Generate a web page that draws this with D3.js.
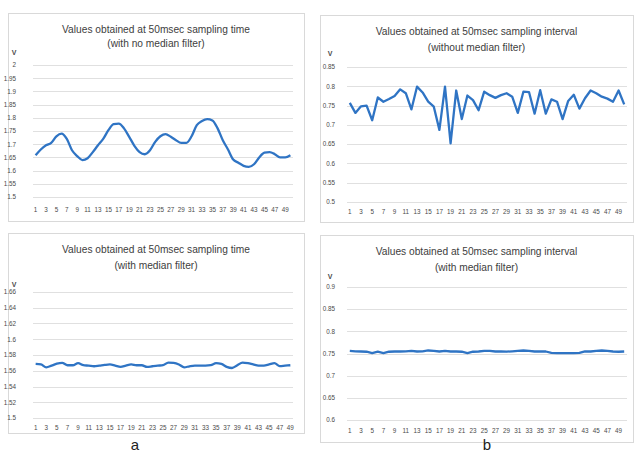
<!DOCTYPE html>
<html>
<head>
<meta charset="utf-8">
<script src="https://cdn.jsdelivr.net/npm/d3@7"></script>
<style>
  body { margin: 0; background: #fff; }
  svg { display: block; font-family: "Liberation Sans", Arial, sans-serif; }
</style>
</head>
<body>
<svg id="canvas" width="635" height="452"></svg>
<script>
"use strict";

const noFilterTime = [
  1.658, 1.68, 1.696, 1.705, 1.73, 1.74, 1.72, 1.677, 1.655, 1.64,
  1.647, 1.67, 1.696, 1.72, 1.753, 1.776, 1.778, 1.76, 1.728, 1.694,
  1.67, 1.662, 1.677, 1.709, 1.73, 1.738, 1.728, 1.715, 1.705, 1.705,
  1.73, 1.772, 1.788, 1.795, 1.79, 1.76, 1.715, 1.68, 1.642, 1.63,
  1.618, 1.614, 1.624, 1.65, 1.668, 1.67, 1.662, 1.65, 1.65, 1.658
];
const noFilterInterval = [
  0.757, 0.731, 0.748, 0.750, 0.712, 0.771, 0.760, 0.767, 0.775, 0.792,
  0.782, 0.740, 0.799, 0.784, 0.760, 0.747, 0.687, 0.799, 0.652, 0.789,
  0.715, 0.776, 0.764, 0.738, 0.786, 0.777, 0.770, 0.777, 0.782, 0.773,
  0.731, 0.786, 0.785, 0.729, 0.790, 0.729, 0.766, 0.760, 0.715, 0.762,
  0.778, 0.742, 0.769, 0.789, 0.782, 0.773, 0.768, 0.760, 0.789, 0.753
];
const medianTime = [
  1.5687, 1.568, 1.5643, 1.5665, 1.569, 1.570, 1.567, 1.567, 1.5696, 1.567,
  1.5665, 1.5657, 1.5665, 1.5674, 1.568, 1.5665, 1.565, 1.5665, 1.568, 1.567,
  1.567, 1.5648, 1.5657, 1.5665, 1.567, 1.5704, 1.570, 1.568, 1.5643, 1.5657,
  1.5665, 1.5665, 1.5665, 1.567, 1.5696, 1.5687, 1.565, 1.5635, 1.567, 1.5704,
  1.5696, 1.568, 1.5665, 1.5665, 1.568, 1.5696, 1.566, 1.5665, 1.567
];
const medianInterval = [
  0.756, 0.755, 0.7545, 0.754, 0.751, 0.754, 0.751, 0.754, 0.7545, 0.7545,
  0.755, 0.756, 0.7545, 0.755, 0.7568, 0.756, 0.7545, 0.756, 0.7545, 0.7545,
  0.754, 0.751, 0.754, 0.7545, 0.756, 0.756, 0.7545, 0.755, 0.754, 0.755,
  0.756, 0.7568, 0.756, 0.7545, 0.755, 0.7545, 0.7515, 0.751, 0.751, 0.751,
  0.751, 0.7515, 0.755, 0.7545, 0.756, 0.7568, 0.756, 0.7545, 0.754, 0.7545
];

// Axis ticks for each panel
const ticksA = [1.5, 1.55, 1.6, 1.65, 1.7, 1.75, 1.8, 1.85, 1.9, 1.95, 2];
const ticksB = [0.5, 0.55, 0.6, 0.65, 0.7, 0.75, 0.8, 0.85];
const ticksC = [1.5, 1.52, 1.54, 1.56, 1.58, 1.6, 1.62, 1.64, 1.66];
const ticksD = [0.6, 0.65, 0.7, 0.75, 0.8, 0.85, 0.9];

const titlesA = ["Values obtained at 50msec sampling time", "(with no median filter)"];
const titlesB = ["Values obtained at 50msec sampling interval", "(without median filter)"];
const titlesC = ["Values obtained at 50msec sampling time", "(with median filter)"];
const titlesD = ["Values obtained at 50msec sampling interval", "(with median filter)"];

const svg = d3.select("#canvas");

const textColor = "#4a4a4a";
const lineColor = "#2f74c4";

const drawPanel = (p) => {
  const g = svg.append("g");

  // chart frame
  g.append("rect")
    .attr("x", p.box[0] + 0.5).attr("y", p.box[1] + 0.5)
    .attr("width", p.box[2]).attr("height", p.box[3])
    .attr("fill", "#fff")
    .attr("stroke", "#d9d9d9");

  const cx = p.box[0] + p.box[2] / 2;
  g.selectAll(".title")
    .data(p.titles)
    .enter()
    .append("text")
    .attr("x", cx)
    .attr("y", (d, i) => p.titleY[i])
    .attr("text-anchor", "middle")
    .attr("font-size", "10.2px")
    .attr("fill", "#404040")
    .text((d) => d);

  const x = d3.scalePoint()
    .domain(d3.range(1, p.values.length + 1))
    .range([p.plot[0], p.plot[1]])
    .padding(0.5);

  const y = d3.scaleLinear()
    .domain(d3.extent(p.ticks))
    .range([p.plot[3], p.plot[2]]);

  // gridlines
  g.selectAll(".grid")
    .data(p.ticks)
    .enter()
    .append("line")
    .attr("x1", p.plot[0]).attr("x2", p.plot[1])
    .attr("y1", (d) => Math.round(y(d)) + 0.5)
    .attr("y2", (d) => Math.round(y(d)) + 0.5)
    .attr("stroke", "#e0e0e0");

  // y tick labels
  g.selectAll(".ytick")
    .data(p.ticks)
    .enter()
    .append("text")
    .attr("x", p.labelX)
    .attr("y", (d) => y(d) + 2.3)
    .attr("text-anchor", "end")
    .attr("font-size", "6.3px")
    .attr("fill", textColor)
    .text((d) => d);

  g.append("text")
    .attr("x", p.vPos[0]).attr("y", p.vPos[1])
    .attr("text-anchor", "middle")
    .attr("font-size", "7px")
    .attr("font-weight", "bold")
    .attr("fill", textColor)
    .text("V");

  // x tick labels: odd sample numbers
  const xLabels = x.domain().filter((d) => d % 2 === 1);
  g.selectAll(".xtick")
    .data(xLabels)
    .enter()
    .append("text")
    .attr("x", (d) => x(d))
    .attr("y", p.xLabelY)
    .attr("text-anchor", "middle")
    .attr("font-size", "6.3px")
    .attr("fill", textColor)
    .text((d) => d);

  const line = d3.line()
    .x((d, i) => x(i + 1))
    .y((d) => y(d))
    .curve(p.smooth ? d3.curveMonotoneX : d3.curveLinear);

  g.append("path")
    .datum(p.values)
    .attr("d", line)
    .attr("fill", "none")
    .attr("stroke", lineColor)
    .attr("stroke-width", 2.3)
    .attr("stroke-linejoin", "round");
};

drawPanel({
  box: [8, 13, 296, 208], plot: [33, 293, 65, 197],
  titles: titlesA, titleY: [33, 47], ticks: ticksA, values: noFilterTime,
  labelX: 16, vPos: [14, 55], xLabelY: 212, smooth: true
});
drawPanel({
  box: [320, 15, 313, 207], plot: [347, 627, 67, 202],
  titles: titlesB, titleY: [35, 51], ticks: ticksB, values: noFilterInterval,
  labelX: 335, vPos: [330, 56], xLabelY: 214, smooth: false
});
drawPanel({
  box: [8, 233, 296, 200], plot: [33, 293, 292, 418],
  titles: titlesC, titleY: [253, 269], ticks: ticksC, values: medianTime,
  labelX: 16, vPos: [14, 287], xLabelY: 430, smooth: true
});
drawPanel({
  box: [320, 235, 313, 207], plot: [347, 627, 287, 420],
  titles: titlesD, titleY: [255, 271], ticks: ticksD, values: medianInterval,
  labelX: 335, vPos: [330, 279], xLabelY: 433, smooth: false
});

// sub-figure letters
svg.selectAll(".letter")
  .data([["a", 135], ["b", 487]])
  .enter()
  .append("text")
  .attr("x", (d) => d[1])
  .attr("y", 450)
  .attr("text-anchor", "middle")
  .attr("font-size", "15px")
  .attr("fill", "#222")
  .text((d) => d[0]);
</script>
</body>
</html>
